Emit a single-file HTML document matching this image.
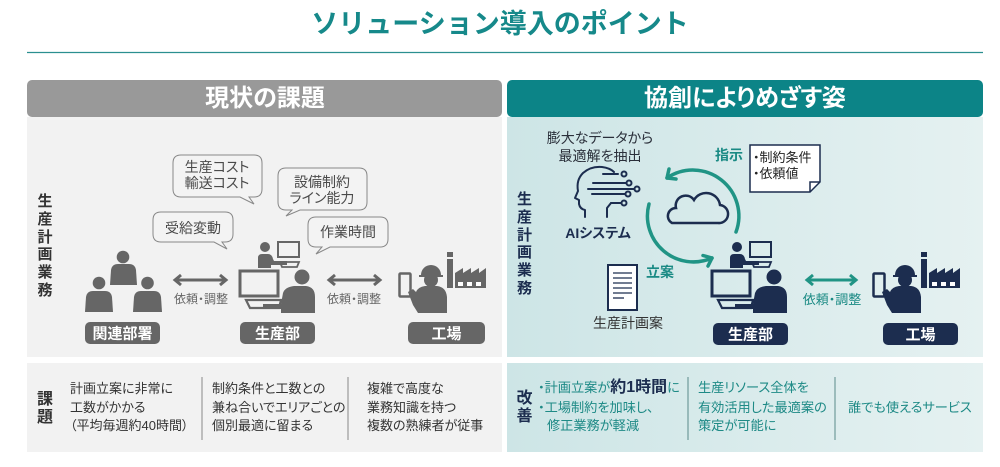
<!DOCTYPE html>
<html><head><meta charset="utf-8">
<style>
html,body{margin:0;padding:0;background:#fff;}
svg{display:block;}
text{font-family:"Liberation Sans","Noto Sans CJK JP",sans-serif;}
.p{font-feature-settings:"palt";}
</style></head><body>
<svg width="1000" height="467" viewBox="0 0 1000 467" xmlns="http://www.w3.org/2000/svg">
<defs>
<linearGradient id="tg" x1="0" x2="1" y1="0" y2="0"><stop offset="0" stop-color="#cde5e6"/><stop offset="1" stop-color="#e5f1f1"/></linearGradient>
<g id="dept">
 <circle cx="265" cy="247" r="5" fill="currentColor"/>
 <path d="M258 268 V258 Q258 254 262 254 H268 Q272 254 273 259 L274 261 H287 V265 H271 V268 Z" fill="currentColor"/>
 <rect x="278" y="242" width="21" height="15" fill="none" stroke="currentColor" stroke-width="2"/>
 <path d="M280 262 H299 L297 267 H282 Z" fill="none" stroke="currentColor" stroke-width="1.8"/>
 <rect x="240" y="271" width="38" height="25" fill="none" stroke="currentColor" stroke-width="3"/>
 <path d="M246 300 H281 L279 308 H250 Z" fill="none" stroke="currentColor" stroke-width="2.2"/>
 <circle cx="302" cy="277" r="7.5" fill="currentColor"/>
 <path d="M283 293 Q285 287 294 286 H306 Q315 287 315 297 V313 H281 V309 H263 V304 H281 Z" fill="currentColor"/>
</g>
<g id="wk">
 <rect x="399.5" y="273.5" width="11" height="23" rx="1" fill="none" stroke="currentColor" stroke-width="2.5"/>
 <path d="M447 313 V297 Q446 287 437 286 H425 Q418 287 416 292 L413 289 L408 292 L413 305 L418 313 Z" fill="currentColor"/>
 <circle cx="431" cy="280" r="7" fill="currentColor"/>
 <path d="M421 275 A10 10 0 0 1 441 275 H443 V277 H419 V275 Z" fill="currentColor"/>
 <rect x="447" y="252" width="6" height="5" fill="currentColor"/>
 <rect x="447" y="259" width="6" height="29" fill="currentColor"/>
 <path d="M455 288 V273 L463 268 V273 L471 268 V273 L479 268 V273 L486 268 V288 Z" fill="currentColor"/>
 <rect x="458" y="282" width="5" height="4" fill="#fff"/>
 <rect x="467" y="282" width="5" height="4" fill="#fff"/>
 <rect x="476" y="282" width="5" height="4" fill="#fff"/>
</g>
</defs>

<!-- Title -->
<text x="500" y="33" font-size="27" font-weight="bold" fill="#16898a" text-anchor="middle">ソリューション導入のポイント</text>
<line x1="27" y1="52.5" x2="983" y2="52.5" stroke="#2b8f90" stroke-width="1.2"/>

<!-- Panels -->
<rect x="27" y="117" width="475" height="240" fill="#f2f2f2"/>
<rect x="507" y="117" width="476" height="240" fill="url(#tg)"/>
<rect x="27" y="80" width="475" height="37" rx="5" fill="#999999"/>
<rect x="507" y="80" width="476" height="37" rx="5" fill="#0c8487"/>
<text x="265" y="106" class="p" font-size="24" font-weight="bold" fill="#fff" text-anchor="middle">現状の課題</text>
<text x="745" y="106" class="p" font-size="24" font-weight="bold" fill="#fff" text-anchor="middle">協創によりめざす姿</text>
<rect x="27" y="363" width="475" height="89" fill="#f2f2f2"/>
<rect x="507" y="363" width="476" height="89" fill="url(#tg)"/>

<!-- vertical labels -->
<g font-size="15" font-weight="bold" fill="#333" text-anchor="middle">
<text x="45" y="206">生</text><text x="45" y="224">産</text><text x="45" y="242">計</text><text x="45" y="259">画</text><text x="45" y="277">業</text><text x="45" y="295">務</text>
</g>
<g font-size="15" font-weight="bold" fill="#1c2d4f" text-anchor="middle">
<text x="524.5" y="204">生</text><text x="524.5" y="222">産</text><text x="524.5" y="240">計</text><text x="524.5" y="257">画</text><text x="524.5" y="275">業</text><text x="524.5" y="293">務</text>
</g>

<!-- Bubbles -->
<g fill="#f3f3f3" stroke="#888" stroke-width="1">
<path d="M181 155 H254 Q262 155 262 163 V189 Q262 197 254 197 H249 L254 204 L240 197 H181 Q173 197 173 189 V163 Q173 155 181 155 Z"/>
<path d="M286 168 H359 Q367 168 367 176 V202 Q367 210 359 210 H300 L286 216 L292 210 H286 Q278 210 278 202 V176 Q278 168 286 168 Z"/>
<path d="M161 212 H225 Q233 212 233 220 V234 Q233 242 225 242 H222 L227 249 L214 242 H161 Q153 242 153 234 V220 Q153 212 161 212 Z"/>
<path d="M316 217 H380 Q388 217 388 225 V239 Q388 247 380 247 H330 L316 254 L322 247 H316 Q308 247 308 239 V225 Q308 217 316 217 Z"/>
</g>
<g class="p" font-size="14" fill="#4a4a4a" text-anchor="middle">
<text x="217" y="172">生産コスト</text><text x="217" y="188">輸送コスト</text>
<text x="322" y="187">設備制約</text><text x="322" y="203">ライン能力</text>
<text x="193" y="233">受給変動</text>
<text x="348" y="237">作業時間</text>
</g>

<!-- People group -->
<g fill="#666">
<circle cx="123" cy="257" r="6.3"/>
<path d="M110 285 L111 270 Q112 264 118 264 H129 Q135 264 136 270 L137 285 Z"/>
<circle cx="99" cy="283" r="6.3"/>
<path d="M85 312 L86 297 Q87 291 93 291 H105 Q111 291 112 297 L113 312 Z"/>
<circle cx="147.5" cy="283" r="6.3"/>
<path d="M133 312 L134 297 Q135 291 141 291 H154 Q160 291 161 297 L162 312 Z"/>
</g>

<use href="#dept" color="#666"/>
<use href="#wk" color="#666"/>

<!-- gray arrows -->
<g stroke="#666" stroke-width="3" fill="none">
<line x1="175" y1="280" x2="226" y2="280"/><path d="M181 275 L175 280 L181 285"/><path d="M220 275 L226 280 L220 285"/>
<line x1="329" y1="280" x2="380" y2="280"/><path d="M335 275 L329 280 L335 285"/><path d="M374 275 L380 280 L374 285"/>
</g>
<text x="201" y="303" class="p" font-size="12" fill="#666" text-anchor="middle">依頼・調整</text>
<text x="354" y="303" class="p" font-size="12" fill="#666" text-anchor="middle">依頼・調整</text>

<!-- gray labels -->
<rect x="85" y="322" width="75" height="22" rx="5" fill="#666"/>
<rect x="240" y="322" width="75" height="22" rx="5" fill="#666"/>
<rect x="408" y="322" width="77" height="22" rx="5" fill="#666"/>
<g font-size="15" font-weight="bold" fill="#fff" text-anchor="middle" class="p">
<text x="122.5" y="338.5">関連部署</text><text x="277.5" y="338.5">生産部</text><text x="446.5" y="338.5">工場</text>
</g>

<!-- Right side -->
<g class="p" font-size="14" fill="#2a2f3a" text-anchor="middle">
<text x="600" y="143">膨大なデータから</text><text x="600" y="161">最適解を抽出</text>
</g>
<g fill="none" stroke="#1c2d4f" stroke-width="2" stroke-linecap="round" stroke-linejoin="round">
<path d="M585 217 V210 Q580 209 579 204 V200 L575 198 L578 191 Q576 180 583 173 Q591 166 602 167 Q610 168 614 172"/>
<path d="M611 203 L607 208 V217"/>
<path d="M603 174 H614 L618 174"/><circle cx="624" cy="174" r="2.5"/>
<path d="M593 183 H626"/><circle cx="629" cy="183" r="2.5"/>
<path d="M588 189 H634"/><circle cx="637" cy="189" r="2.5"/>
<path d="M592 194 H625"/><circle cx="628" cy="194" r="2.5"/>
<path d="M611 203 H621"/><circle cx="624" cy="203" r="2.5"/>
</g>
<text x="598" y="238" class="p" font-size="14" font-weight="bold" fill="#1c2d4f" text-anchor="middle">AIシステム</text>

<path d="M672 223 H718 A9 9 0 0 0 720 205 A14 14 0 0 0 694 200 A10 10 0 0 0 676 208 A8 8 0 0 0 672 223 Z" fill="none" stroke="#1c2d4f" stroke-width="2.5"/>

<g fill="none" stroke="#209485" stroke-width="3.5" stroke-linecap="round" stroke-linejoin="round">
<path d="M736 232 A46 46 0 0 0 667 178"/>
<path d="M676 179 L667 178 L669 169"/>
<path d="M649 204 A46 46 0 0 0 712 258"/>
<path d="M703 255.5 L712 258 L708 266"/>
</g>
<text x="729" y="160" class="p" font-size="14" font-weight="bold" fill="#1a8a84" text-anchor="middle">指示</text>
<text x="660" y="277" class="p" font-size="14" font-weight="bold" fill="#1a8a84" text-anchor="middle">立案</text>

<path d="M750 145 H820 V182 L810 192 H750 Z" fill="#fff" stroke="#1c2d4f" stroke-width="1.5"/>
<path d="M820 182 H810 V192" fill="none" stroke="#1c2d4f" stroke-width="1.5"/>
<g class="p" font-size="13" fill="#222"><text x="753" y="162">・制約条件</text><text x="753" y="178">・依頼値</text></g>

<rect x="608" y="265" width="29" height="45" fill="#fff" stroke="#1c2d4f" stroke-width="2"/>
<g stroke="#1c2d4f" stroke-width="1.3">
<line x1="613" y1="273" x2="632" y2="273"/><line x1="613" y1="278" x2="632" y2="278"/><line x1="613" y1="283" x2="632" y2="283"/><line x1="613" y1="288" x2="632" y2="288"/><line x1="613" y1="293" x2="632" y2="293"/><line x1="613" y1="298" x2="624" y2="298"/>
</g>
<text x="628" y="328" class="p" font-size="14" fill="#333" text-anchor="middle">生産計画案</text>

<use href="#dept" transform="translate(472,0)" color="#1c2d4f"/>
<use href="#wk" transform="translate(474,0)" color="#1c2d4f"/>

<g stroke="#209485" stroke-width="3" fill="none">
<line x1="807" y1="280" x2="856" y2="280"/><path d="M813 275 L807 280 L813 285"/><path d="M850 275 L856 280 L850 285"/>
</g>
<text x="832" y="304" class="p" font-size="13" fill="#1a8a84" text-anchor="middle">依頼・調整</text>

<rect x="713" y="323" width="75" height="22" rx="5" fill="#1c2d4f"/>
<rect x="883" y="323" width="75" height="22" rx="5" fill="#1c2d4f"/>
<g font-size="15" font-weight="bold" fill="#fff" text-anchor="middle" class="p">
<text x="750.5" y="339.5">生産部</text><text x="920.5" y="339.5">工場</text>
</g>

<!-- Bottom left -->
<g font-size="16" font-weight="bold" fill="#333" text-anchor="middle">
<text x="45" y="404">課</text><text x="45" y="422">題</text>
</g>
<g class="p" font-size="13" fill="#333">
<text x="70" y="393">計画立案に非常に</text><text x="70" y="412">工数がかかる</text><text x="70" y="430">（平均毎週約40時間）</text>
<text x="212" y="393">制約条件と工数との</text><text x="212" y="412">兼ね合いでエリアごとの</text><text x="212" y="430">個別最適に留まる</text>
<text x="367" y="393">複雑で高度な</text><text x="367" y="412">業務知識を持つ</text><text x="367" y="430">複数の熟練者が従事</text>
</g>
<g stroke="#888" stroke-width="1">
<line x1="202" y1="377" x2="202" y2="440"/><line x1="348" y1="377" x2="348" y2="440"/>
</g>

<!-- Bottom right -->
<g font-size="16" font-weight="bold" fill="#1c2d4f" text-anchor="middle">
<text x="524.5" y="403">改</text><text x="524.5" y="421">善</text>
</g>
<g class="p" font-size="13.2" fill="#1e8a86">
<text x="538" y="392">・計画立案が<tspan font-size="16" font-weight="bold" fill="#1c2d4f">約1時間</tspan>に</text>
<text x="538" y="412">・工場制約を加味し、</text>
<text x="547" y="430">修正業務が軽減</text>
<text x="698" y="392">生産リソース全体を</text><text x="698" y="412">有効活用した最適案の</text><text x="698" y="430">策定が可能に</text>
<text x="848" y="412">誰でも使えるサービス</text>
</g>
<g stroke="#5a8a8a" stroke-width="1">
<line x1="688" y1="377" x2="688" y2="440"/><line x1="835" y1="377" x2="835" y2="440"/>
</g>
</svg>
</body></html>
